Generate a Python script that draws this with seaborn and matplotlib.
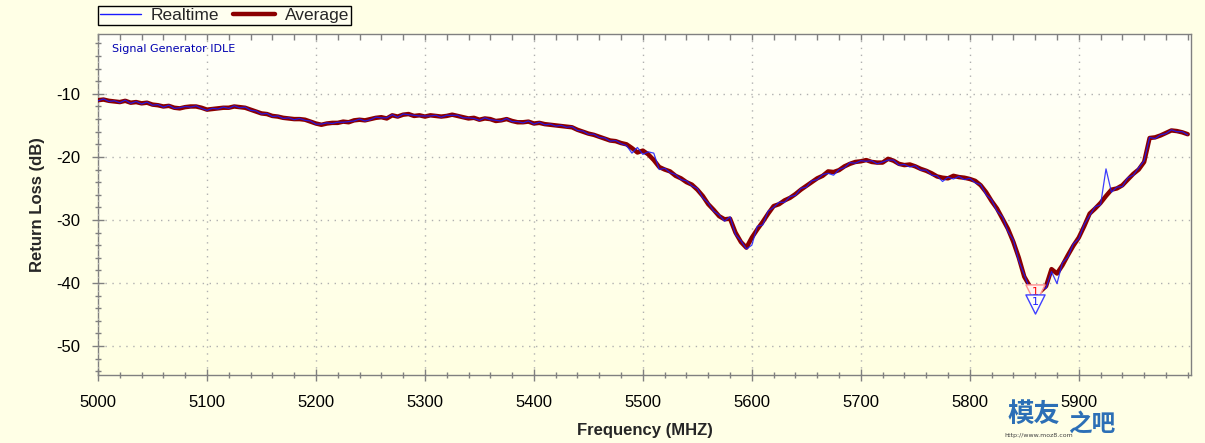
import numpy as np
import pandas as pd
import matplotlib
matplotlib.use("Agg")
import matplotlib.pyplot as plt
import seaborn as sns
from matplotlib.ticker import MultipleLocator
from matplotlib.colors import LinearSegmentedColormap
from matplotlib.lines import Line2D

# ---------------- data ----------------
freq_mhz = list(range(5000, 6005, 5))

average_db = [
    -11.0, -10.9, -11.1, -11.2, -11.3, -11.1, -11.4, -11.3, -11.5, -11.4,
    -11.7, -11.8, -12.0, -11.9, -12.2, -12.3, -12.1, -12.0, -12.0, -12.2,
    -12.5, -12.4, -12.3, -12.2, -12.2, -12.0, -12.1, -12.2, -12.5, -12.8,
    -13.1, -13.2, -13.5, -13.6, -13.8, -13.9, -14.0, -14.0, -14.1, -14.4,
    -14.7, -14.9, -14.7, -14.6, -14.6, -14.4, -14.5, -14.2, -14.1, -14.2,
    -14.0, -13.8, -13.7, -13.9, -13.4, -13.6, -13.3, -13.2, -13.5, -13.4,
    -13.6, -13.4, -13.5, -13.6, -13.5, -13.3, -13.5, -13.7, -13.9, -13.8,
    -14.1, -13.9, -14.0, -14.3, -14.2, -14.0, -14.3, -14.5, -14.5, -14.4,
    -14.7, -14.6, -14.8, -14.9, -15.0, -15.1, -15.2, -15.3, -15.7, -16.0,
    -16.3, -16.5, -16.8, -17.1, -17.4, -17.5, -17.8, -18.0, -18.6, -19.3,
    -19.0, -19.6, -20.5, -21.6, -22.0, -22.3, -23.0, -23.4, -24.0, -24.4,
    -25.2, -26.2, -27.5, -28.4, -29.4, -29.9, -29.8, -32.0, -33.5, -34.4,
    -32.8, -31.5, -30.3, -29.0, -27.8, -27.5, -26.9, -26.5, -25.9, -25.2,
    -24.6, -24.0, -23.4, -23.0, -22.3, -22.4, -22.1, -21.5, -21.1, -20.8,
    -20.7, -20.5, -20.8, -20.9, -20.9, -20.3, -20.6, -21.1, -21.3, -21.2,
    -21.5, -21.9, -22.2, -22.6, -23.1, -23.3, -23.4, -23.0, -23.2, -23.3,
    -23.5, -23.8, -24.5, -25.6, -27.0, -28.2, -29.8, -31.4, -33.5, -36.0,
    -39.0, -40.5, -41.2, -41.3, -40.5, -37.8, -38.5, -37.2, -35.6, -34.1,
    -32.8, -31.0, -29.0, -28.2, -27.3, -26.2, -25.2, -25.0, -24.5, -23.6,
    -22.7, -22.0, -20.8, -17.0, -16.9, -16.6, -16.2, -15.8, -15.9, -16.1,
    -16.4,
]

realtime_db = [
    -11.1, -10.8, -11.2, -11.1, -11.4, -11.0, -11.5, -11.2, -11.6, -11.3,
    -11.8, -11.7, -12.1, -11.8, -12.3, -12.2, -12.0, -12.1, -11.9, -12.3,
    -12.6, -12.3, -12.4, -12.1, -12.3, -11.9, -12.2, -12.1, -12.6, -12.7,
    -13.2, -13.1, -13.6, -13.5, -13.9, -13.8, -14.1, -13.9, -14.2, -14.3,
    -14.8, -14.8, -14.6, -14.7, -14.5, -14.5, -14.4, -14.3, -14.0, -14.3,
    -14.1, -13.7, -13.8, -13.8, -13.3, -13.7, -13.2, -13.3, -13.4, -13.5,
    -13.5, -13.5, -13.4, -13.7, -13.4, -13.4, -13.4, -13.8, -13.8, -13.9,
    -14.2, -13.8, -14.1, -14.2, -14.3, -13.9, -14.4, -14.4, -14.6, -14.3,
    -14.8, -14.5, -14.9, -14.8, -15.1, -15.0, -15.3, -15.2, -15.8, -15.9,
    -16.4, -16.4, -16.9, -17.0, -17.5, -17.4, -17.9, -18.2, -19.4, -18.5,
    -19.6, -19.2, -19.4, -22.0, -21.8, -22.5, -22.8, -23.6, -23.8, -24.6,
    -25.0, -26.5, -27.3, -28.6, -29.2, -30.2, -29.5, -32.3, -33.3, -34.6,
    -34.0, -31.0, -30.8, -28.6, -28.0, -27.2, -27.2, -26.3, -26.1, -25.0,
    -24.8, -23.8, -23.6, -22.8, -22.6, -22.9, -22.0, -21.7, -20.9, -21.0,
    -20.6, -20.7, -20.6, -21.1, -20.8, -20.5, -20.5, -21.3, -21.2, -21.6,
    -21.4, -22.1, -22.1, -22.9, -23.0, -23.9, -23.2, -23.5, -23.1, -23.6,
    -23.4, -24.1, -24.4, -26.0, -26.8, -28.6, -29.5, -31.8, -33.2, -36.5,
    -38.7, -41.0, -41.6, -41.0, -40.8, -38.2, -40.1, -36.8, -35.9, -33.8,
    -33.0, -30.7, -29.3, -27.9, -27.6, -21.9, -25.6, -24.8, -24.7, -23.3,
    -22.9, -21.7, -20.6, -16.9, -17.1, -16.5, -16.3, -15.7, -16.0, -16.0,
    -16.5,
]

marker_freq = 5860
marker_avg_db = -41.8
marker_rt_db = -43.4

x_ticks = [5000, 5100, 5200, 5300, 5400, 5500, 5600, 5700, 5800, 5900]
y_ticks = [-10, -20, -30, -40, -50]

# ---------------- style ----------------
sns.set_theme(style="white")
plt.rcParams["font.family"] = ["Liberation Sans", "DejaVu Sans"]
plt.rcParams["axes.unicode_minus"] = False

W, H = 1205, 443
fig = plt.figure(figsize=(W / 100, H / 100), dpi=100, facecolor="#FFFFE6")
left_px, right_px, top_px, bottom_px = 98, 1191, 34, 375
ax = fig.add_axes([left_px / W, 1 - bottom_px / H,
                   (right_px - left_px) / W, (bottom_px - top_px) / H])

# gradient background of plot area
grad = np.linspace(0, 1, 256).reshape(-1, 1)
cmap = LinearSegmentedColormap.from_list("bg", ["#FFFFE2", "#FFFFFA"])
ax.imshow(grad, cmap=cmap, extent=[0, 1, 0, 1], transform=ax.transAxes,
          aspect="auto", origin="lower", zorder=0)

df = pd.DataFrame({"freq": freq_mhz, "Average": average_db, "Realtime": realtime_db})

sns.lineplot(data=df, x="freq", y="Average", ax=ax, color="#8B0000",
             linewidth=3.2, zorder=3, legend=False)
sns.lineplot(data=df, x="freq", y="Realtime", ax=ax, color="#1a1aff",
             linewidth=0.9, alpha=0.85, zorder=4, legend=False)

# markers
ax.scatter([marker_freq], [marker_avg_db], marker="v", s=190,
           facecolor="#FFF4F0", edgecolor="#FF9090", linewidth=1, zorder=5)
ax.text(marker_freq, marker_avg_db + 0.35, "1", color="red", fontsize=8,
        ha="center", va="center", zorder=6, family="DejaVu Sans")
ax.scatter([marker_freq], [marker_rt_db], marker="v", s=190,
           facecolor="#FFFFF6", edgecolor="#4040FF", linewidth=1, zorder=7)
ax.text(marker_freq, marker_rt_db + 0.35, "1", color="#2020FF", fontsize=8,
        ha="center", va="center", zorder=8, family="DejaVu Sans")

ax.set_xlim(5000, 6003)
ax.set_ylim(-54.6, -0.5)
ax.set_xticks(x_ticks)
ax.set_yticks(y_ticks)
ax.xaxis.set_minor_locator(MultipleLocator(20))
ax.yaxis.set_minor_locator(MultipleLocator(2))

ax.grid(True, which="major", color="#B0B0B0", linestyle=(0, (1, 4)), linewidth=1.0)
ax.set_axisbelow(False)
for gl in ax.get_xgridlines() + ax.get_ygridlines():
    gl.set_zorder(1)

for s in ax.spines.values():
    s.set_color("#808080")
    s.set_linewidth(1.0)
    s.set_visible(True)

ax.tick_params(axis="both", which="major", direction="inout", length=9,
               width=1, color="#808080", labelsize=12, labelcolor="black")
ax.tick_params(axis="both", which="minor", direction="inout", length=5,
               width=1, color="#808080")
ax.tick_params(axis="x", which="major", pad=10)
ax.tick_params(axis="y", which="major", pad=8)
ax.tick_params(axis="both", which="both", bottom=True, left=True, top=False, right=False)
# inward ticks along the top spine
ax.tick_params(axis="x", which="both", top=True, labeltop=False)
for t in ax.xaxis.get_major_ticks() + ax.xaxis.get_minor_ticks():
    t.tick2line.set_markersize(4)
    t.tick2line.set_marker(3)  # TICKDOWN
    t.tick2line.set_color("#808080")

ax.set_xlabel("Frequency (MHZ)", fontsize=12, fontweight="bold", labelpad=9)
ax.set_ylabel("Return Loss (dB)", fontsize=12, fontweight="bold", labelpad=8)

ax.text(0.013, 0.955, "Signal Generator IDLE", transform=ax.transAxes,
        color="#0000B0", fontsize=8, ha="left", va="center", family="DejaVu Sans")

handles = [Line2D([], [], color="#1a1aff", linewidth=1),
           Line2D([], [], color="#8B0000", linewidth=3.2)]
leg = ax.legend(handles, ["Realtime", "Average"], loc="lower left",
                bbox_to_anchor=(0.0, 1 + 9 / (bottom_px - top_px)), ncol=2,
                frameon=True, fancybox=False, framealpha=1, edgecolor="black",
                facecolor="#FFFFF0", fontsize=12.5, handlelength=2.4,
                handletextpad=0.55, columnspacing=0.8, borderpad=0.1,
                borderaxespad=0)
leg.get_frame().set_linewidth(1.0)

# watermark
fig.text(1008 / W, 1 - 414 / H, "模友", color="#2C6FB6", fontsize=19,
         fontweight="bold", family=["Noto Sans CJK SC", "DejaVu Sans"],
         ha="left", va="center")
fig.text(1068 / W, 1 - 424 / H, "之吧", color="#2C6FB6", fontsize=17,
         fontweight="bold", family=["Noto Sans CJK SC", "DejaVu Sans"],
         ha="left", va="center")
fig.text(1004 / W, 1 - 435 / H, "http://www.moz8.com", color="#404040",
         fontsize=4.5, ha="left", va="center", family="DejaVu Sans")

fig.savefig("out.png", dpi=100, facecolor=fig.get_facecolor())
